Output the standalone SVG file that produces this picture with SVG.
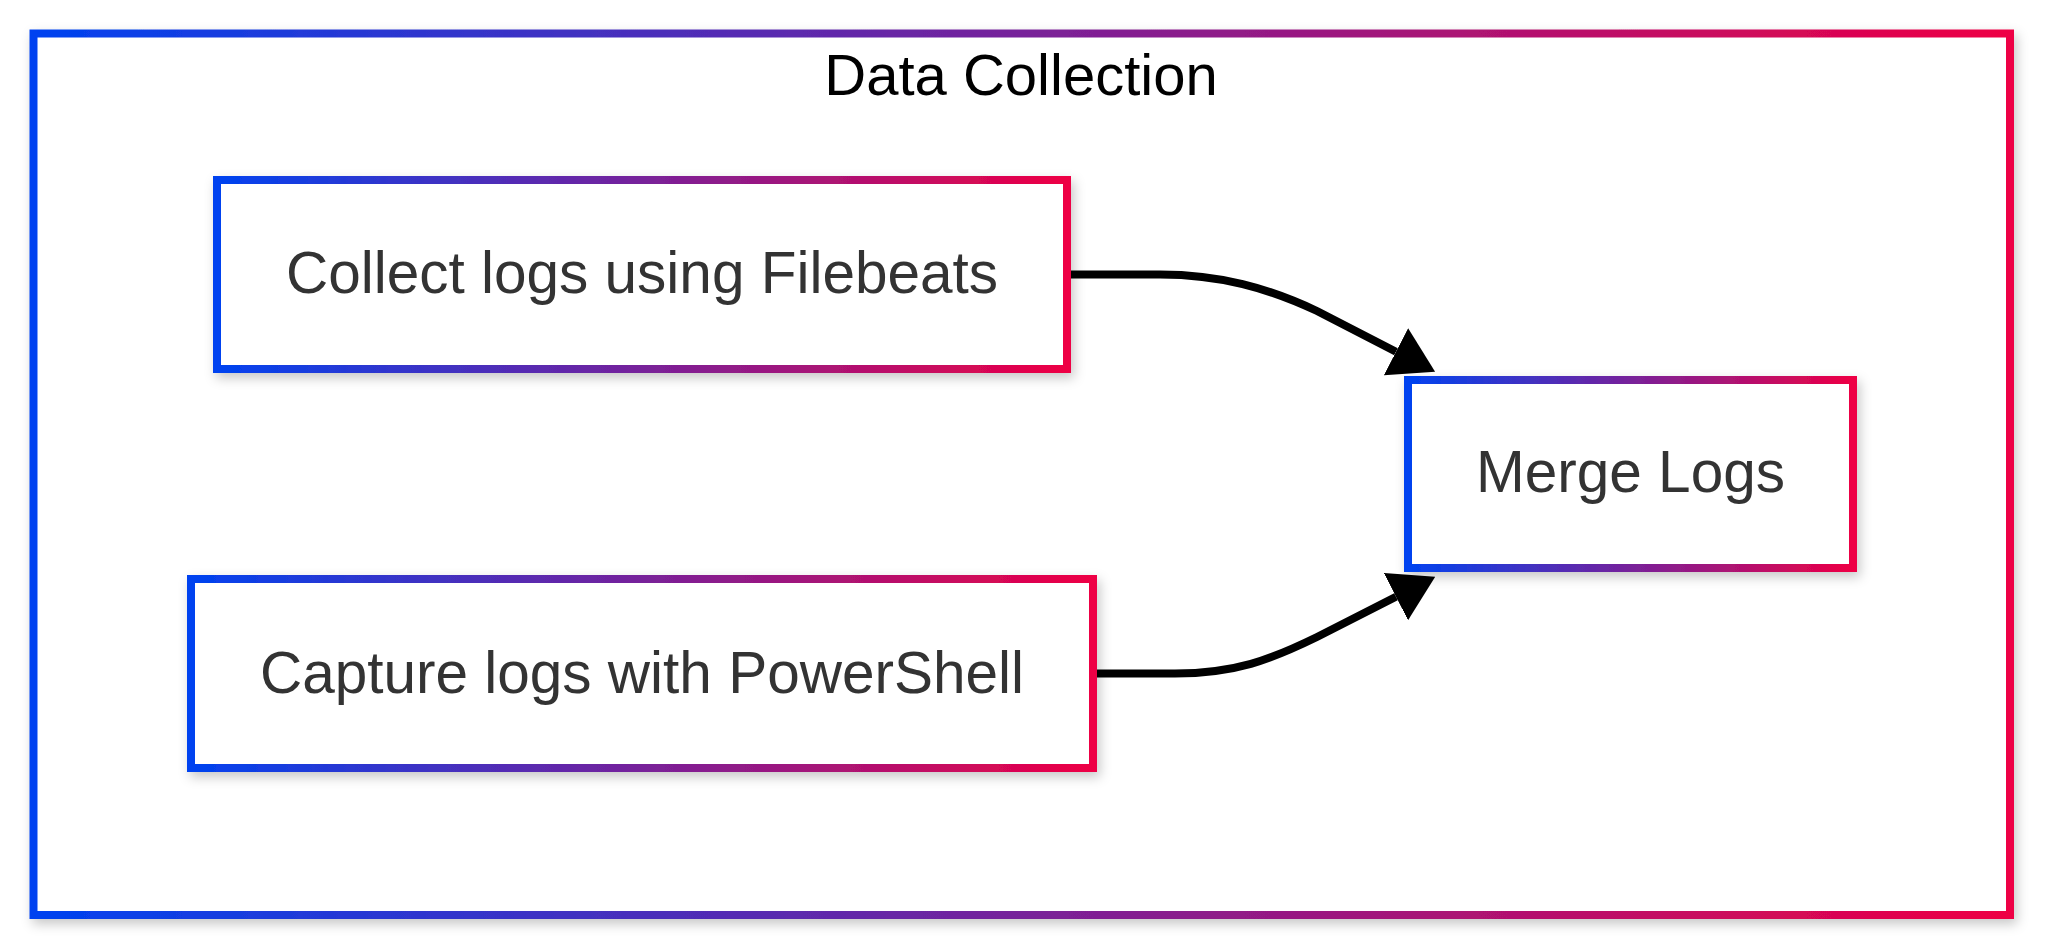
<svg xmlns="http://www.w3.org/2000/svg" width="2048" height="951" viewBox="0 0 2048 951">
  <style>
    .box { fill: #ffffff; stroke: url(#grad); stroke-width: 8; filter: url(#shadow); }
    .label { font-family: "Liberation Sans", Arial, Helvetica, sans-serif; font-size: 58.5px; fill: #333333; text-anchor: middle; }
    .title { font-family: "Liberation Sans", Arial, Helvetica, sans-serif; font-size: 58px; fill: #000000; text-anchor: middle; }
    .edge { fill: none; stroke: #000000; stroke-width: 8; marker-end: url(#arrow); }
  </style>
  <defs>
    <linearGradient id="grad" x1="0" y1="0" x2="1" y2="0">
      <stop offset="0" stop-color="#0043F0"/>
      <stop offset="1" stop-color="#EE0044"/>
    </linearGradient>
    <filter id="shadow" x="-10%" y="-10%" width="120%" height="130%">
      <feDropShadow dx="3" dy="5" stdDeviation="6" flood-color="#000000" flood-opacity="0.22"/>
    </filter>
    <marker id="arrow" markerUnits="userSpaceOnUse" markerWidth="44" markerHeight="53" viewBox="0 0 44 53" refX="0" refY="26.5" orient="auto">
      <path d="M0,0 L44,26.5 L0,53 z" fill="#000000"/>
    </marker>
  </defs>
  <rect width="2048" height="951" fill="#ffffff"/>
  <g id="cluster-data-collection">
    <rect class="box" x="33.5" y="33.5" width="1976.5" height="881.5"/>
    <text class="title" x="1021" y="95">Data Collection</text>
  </g>
  <g id="connectors">
    <path class="edge" d="M1071,274.5 H1160 C1220,274.5 1268,288 1317,311 L1396,351.7"/>
    <path class="edge" d="M1097,673.5 H1175 C1235,673.5 1270,660 1317,637 L1396,596.7"/>
  </g>
  <g id="node-collect">
    <rect class="box" x="217" y="180" width="850" height="189"/>
    <text class="label" x="642" y="293">Collect logs using Filebeats</text>
  </g>
  <g id="node-capture">
    <rect class="box" x="191" y="579" width="902" height="189"/>
    <text class="label" x="642" y="693">Capture logs with PowerShell</text>
  </g>
  <g id="node-merge">
    <rect class="box" x="1408" y="380" width="445" height="188"/>
    <text class="label" x="1630.5" y="492">Merge Logs</text>
  </g>
</svg>
